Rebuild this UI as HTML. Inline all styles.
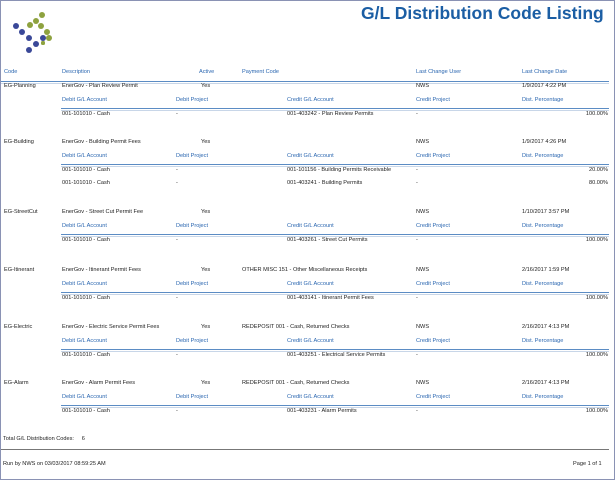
<!DOCTYPE html>
<html><head><meta charset="utf-8"><style>
body{margin:0;width:615px;height:480px;overflow:hidden;background:#fff;font-family:Tahoma,"DejaVu Sans Condensed","Liberation Sans",sans-serif;}
#page{position:absolute;left:0;top:0;width:613px;height:478px;border:1px solid #8a92b4;}
.t{position:absolute;font-size:5.6px;color:#222;white-space:nowrap;line-height:7px;font-family:"Liberation Sans",sans-serif;}
.h{color:#2a66b0;}
.r{text-align:right;}
.ln{position:absolute;height:1px;background:#5b8cc4;}
.dl{position:absolute;height:1px;border-top:1px solid #5b8cc4;border-bottom:1px solid #c8d6e8;}
.dot{position:absolute;border-radius:50%;}
</style></head><body>
<div id="page">
<div id="logo" style="position:absolute;left:0;top:0;width:60px;height:60px"></div>
<div class="t" style="left:360px;top:1px;font-size:17.5px;line-height:22px;font-weight:bold;color:#1b5ea4;">G/L Distribution Code Listing</div>
<div id="rows"></div>
<div class="ln" style="left:0;top:448px;width:608px;background:#777"></div>
<div class="t" style="left:2px;top:435px">Total G/L Distribution Codes:&nbsp;&nbsp;&nbsp;&nbsp; 6</div>
<div class="t" style="left:2px;top:460px">Run by NWS on 03/03/2017 08:59:25 AM</div>
<div class="t" style="left:572px;top:460px">Page 1 of 1</div>
</div>
<script>
const logo=document.getElementById('logo');
const dots=[[41,14,'o',3.2],[35,20,'o',3.2],[29,24,'o',3.2],[40,25,'o',3.2],[46,31,'o',3.2],[48,37,'o',3.2],[42,42,'o',1.6],[15,25,'b',3.2],[21,31,'b',3.2],[28,37,'b',3.2],[42,37,'b',3.2],[35,43,'b',3.2],[28,49,'b',3.2]];
for(const d of dots){const e=document.createElement('div');e.className='dot';


e.style.left=(d[0]-d[3])+'px';e.style.top=(d[1]-d[3])+'px';e.style.width=e.style.height=(2*d[3])+'px';e.style.background=d[2]=='o'?'#8ea23f':'#3a4898';logo.appendChild(e);}
const root=document.getElementById('rows');
function txt(s,x,y,cls,name,w){const e=document.createElement('div');e.className='t '+(cls||'');


e.textContent=s;e.style.left=x+'px';e.style.top=(y-3.5)+'px';if(w){e.style.width=w+'px';}root.appendChild(e);}
function line(x,y,w,cls,name){const e=document.createElement('div');e.className=cls;


e.style.left=x+'px';e.style.top=y+'px';e.style.width=w+'px';root.appendChild(e);}
txt('Code',3,71,'h','col-code');txt('Description',61,71,'h','col-description');txt('Active',198,71,'h','col-active');txt('Payment Code',241,71,'h','col-payment-code');txt('Last Change User',415,71,'h','col-last-change-user');txt('Last Change Date',521,71,'h','col-last-change-date');
line(0,80,608,'dl','header-line');
const blocks=[
['EG-Planning','EnerGov - Plan Review Permit','','1/9/2017 4:22 PM',85,[['001-403242 - Plan Review Permits','100.00%']]],
['EG-Building','EnerGov - Building Permit Fees','','1/9/2017 4:26 PM',141,[['001-101156 - Building Permits Receivable','20.00%'],['001-403241 - Building Permits','80.00%']]],
['EG-StreetCut','EnerGov - Street Cut Permit Fee','','1/10/2017 3:57 PM',211,[['001-403261 - Street Cut Permits','100.00%']]],
['EG-Itinerant','EnerGov - Itinerant Permit Fees','OTHER MISC 151 - Other Miscellaneous Receipts','2/16/2017 1:59 PM',269,[['001-403141 - Itinerant Permit Fees','100.00%']]],
['EG-Electric','EnerGov - Electric Service Permit Fees','REDEPOSIT 001 - Cash, Returned Checks','2/16/2017 4:13 PM',326,[['001-403251 - Electrical Service Permits','100.00%']]],
['EG-Alarm','EnerGov - Alarm Permit Fees','REDEPOSIT 001 - Cash, Returned Checks','2/16/2017 4:13 PM',382,[['001-403231 - Alarm Permits','100.00%']]]];
for(const b of blocks){const y=b[4];
txt(b[0],3,y,'','code-value');txt(b[1],61,y,'','description-value');txt('Yes',200,y,'','active-value');txt(b[2],241,y,'','payment-code-value');txt('NWS',415,y,'','user-value');txt(b[3],521,y,'','date-value');
txt('Debit G/L Account',61,y+14,'h','sub-debit-account');txt('Debit Project',175,y+14,'h','sub-debit-project');txt('Credit G/L Account',286,y+14,'h','sub-credit-account');txt('Credit Project',415,y+14,'h','sub-credit-project');txt('Dist. Percentage',521,y+14,'h','sub-dist-percentage');
line(60,y+22,548,'dl','detail-line');
b[5].forEach((d,i)=>{const yy=y+28+i*13;txt('001-101010 - Cash',61,yy,'','debit-account-value');txt('-',175,yy,'','debit-project-value');txt(d[0],286,yy,'','credit-account-value');txt('-',415,yy,'','credit-project-value');txt(d[1],540,yy,'r','dist-percentage-value',67);});}
</script>
</body></html>
